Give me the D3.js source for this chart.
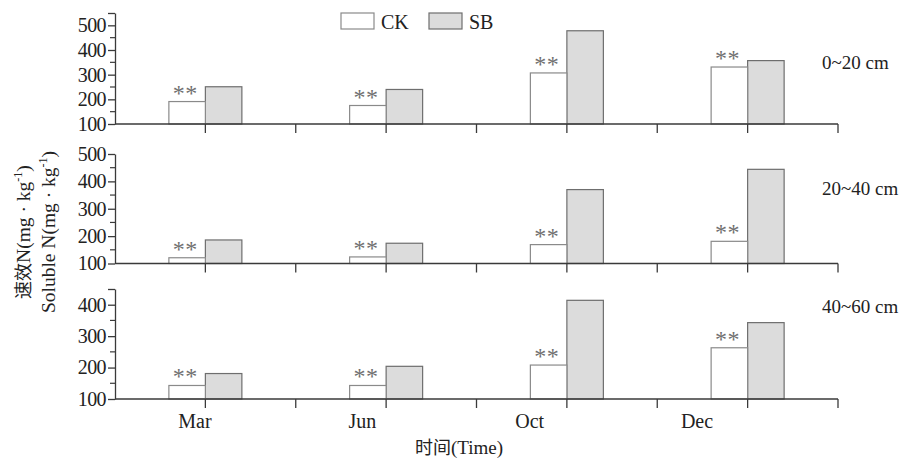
<!DOCTYPE html>
<html>
<head>
<meta charset="utf-8">
<script src="https://cdn.jsdelivr.net/npm/d3@7"></script>
<style>
  html, body { margin: 0; padding: 0; background: #fff; }
  svg text { font-family: "Liberation Serif", "Times New Roman", serif; }
</style>
</head>
<body>
<svg id="chart" width="914" height="459"></svg>
<script>
// Sampling months and soil depth layers
const months = ["Mar", "Jun", "Oct", "Dec"];
const depths = ["0~20 cm", "20~40 cm", "40~60 cm"];
const seriesNames = ["CK", "SB"];

// Soluble N (mg·kg-1) per depth layer
const ck0to20 = [191, 175, 307, 331];
const sb0to20 = [251, 240, 478, 357];
const ck20to40 = [121, 124, 169, 181];
const sb20to40 = [186, 174, 370, 444];
const ck40to60 = [143, 143, 208, 263];
const sb40to60 = [181, 204, 414, 343];

// Y-axis tick labels per panel
const ticks0to20 = [100, 200, 300, 400, 500];
const ticks20to40 = [100, 200, 300, 400, 500];
const ticks40to60 = [100, 200, 300, 400];
const yMax = [550, 500, 450];

// Significance marks above CK bars
const sigMarks = ["**", "**", "**", "**"];

const panels = [
  { label: depths[0], ck: ck0to20, sb: sb0to20, ticks: ticks0to20, max: yMax[0], top: 13, bottom: 124 },
  { label: depths[1], ck: ck20to40, sb: sb20to40, ticks: ticks20to40, max: yMax[1], top: 154, bottom: 263.5 },
  { label: depths[2], ck: ck40to60, sb: sb40to60, ticks: ticks40to60, max: yMax[2], top: 289, bottom: 399 }
];

const svg = d3.select("#chart");
const axisColor = "#3a3a3a";
const left = 115, right = 838;

const x = d3.scaleBand().domain(months).range([left, right]).paddingInner(0).paddingOuter(0);
const barW = 36.5;
const labelX = d3.scalePoint().domain(months).range([195, 697]);

panels.forEach((p, pi) => {
  const y = d3.scaleLinear().domain([100, p.max]).range([p.bottom, p.top]);
  const g = svg.append("g");

  // bars
  const rows = months.map((m, i) => ({ m, ck: p.ck[i], sb: p.sb[i], sig: sigMarks[i] }));
  const cx = d => x(d.m) + x.bandwidth() / 2;

  g.selectAll("rect.sb").data(rows).join("rect")
    .attr("x", d => cx(d))
    .attr("width", barW)
    .attr("y", d => y(d.sb))
    .attr("height", d => y(100) - y(d.sb))
    .attr("fill", "#dcdcdc")
    .attr("stroke", "#6e6e6e")
    .attr("stroke-width", 1.2);

  g.selectAll("rect.ck").data(rows).join("rect")
    .attr("x", d => cx(d) - barW)
    .attr("width", barW)
    .attr("y", d => y(d.ck))
    .attr("height", d => y(100) - y(d.ck))
    .attr("fill", "#ffffff")
    .attr("stroke", "#8a8a8a")
    .attr("stroke-width", 1.2);

  g.selectAll("text.sig").data(rows).join("text")
    .attr("x", d => cx(d) - barW / 2 - 2)
    .attr("y", d => y(d.ck) - 1)
    .attr("text-anchor", "middle")
    .attr("fill", "#707070")
    .attr("font-size", 24)
    .attr("letter-spacing", 0.5)
    .text(d => d.sig);

  // y axis: labelled major ticks plus unlabelled half steps
  const minor = d3.range(150, p.max + 1, 100);
  const yAxis = d3.axisLeft(y).tickValues(p.ticks.concat([p.max].filter(v => !p.ticks.includes(v))))
    .tickSize(7).tickSizeOuter(0).tickPadding(2)
    .tickFormat(d => p.ticks.includes(d) ? d : "");
  const ya = g.append("g").attr("transform", `translate(${left},0)`).call(yAxis);
  ya.selectAll("line").attr("stroke", axisColor).attr("stroke-width", 1.3);
  ya.select(".domain").attr("stroke", axisColor).attr("stroke-width", 1.3);
  ya.selectAll("text").attr("font-size", 20).attr("fill", "#222")
    .attr("font-family", "Liberation Serif").attr("letter-spacing", -0.6);
  g.append("g").selectAll("line").data(minor.filter(v => v !== p.max)).join("line")
    .attr("x1", left - 5).attr("x2", left)
    .attr("y1", d => y(d)).attr("y2", d => y(d))
    .attr("stroke", axisColor).attr("stroke-width", 1.2);

  // x axis with ticks at band centres and boundaries
  const xTicks = d3.range(1, 9).map(k => left + k * x.bandwidth() / 2);
  g.append("line")
    .attr("x1", left).attr("x2", right)
    .attr("y1", y(100)).attr("y2", y(100))
    .attr("stroke", axisColor).attr("stroke-width", 1.4);
  g.append("g").selectAll("line").data(xTicks).join("line")
    .attr("x1", d => d).attr("x2", d => d)
    .attr("y1", y(100)).attr("y2", y(100) + 9)
    .attr("stroke", axisColor).attr("stroke-width", 1.3);

  // depth label
  g.append("text")
    .attr("x", 822)
    .attr("y", [69, 195, 313][pi])
    .attr("font-size", 19)
    .attr("fill", "#222")
    .text(p.label);
});

// month labels
svg.append("g").selectAll("text").data(months).join("text")
  .attr("x", d => labelX(d))
  .attr("y", 428)
  .attr("text-anchor", "middle")
  .attr("font-size", 20)
  .attr("fill", "#222")
  .text(d => d);

// x-axis title
svg.append("text")
  .attr("x", 459).attr("y", 454)
  .attr("text-anchor", "middle")
  .attr("font-size", 19)
  .attr("fill", "#222")
  .call(t => {
    t.append("tspan").attr("font-family", "Noto Sans CJK SC").attr("font-size", 18).text("时间");
    t.append("tspan").text("(Time)");
  });

// y-axis title, two lines
const yTitle = svg.append("g").attr("transform", "translate(0,232) rotate(-90)");
const line1 = yTitle.append("text").attr("x", 0).attr("y", 30)
  .attr("text-anchor", "middle").attr("font-size", 19.5).attr("fill", "#222");
line1.append("tspan").attr("font-family", "Noto Sans CJK SC").attr("font-size", 18).text("速效");
line1.append("tspan").text("N(mg · kg");
line1.append("tspan").attr("font-size", 12).attr("dy", -8).text("-1");
line1.append("tspan").attr("dy", 8).text(")");

const line2 = yTitle.append("text").attr("x", 0).attr("y", 55)
  .attr("text-anchor", "middle").attr("font-size", 19.5).attr("fill", "#222");
line2.append("tspan").text("Soluble N(mg · kg");
line2.append("tspan").attr("font-size", 12).attr("dy", -8).text("-1");
line2.append("tspan").attr("dy", 8).text(")");

// legend
const legend = svg.append("g");
const legendX = d3.scalePoint().domain(seriesNames).range([341, 429]);
const legendFill = d3.scaleOrdinal().domain(seriesNames).range(["#ffffff", "#dcdcdc"]);
const legendStroke = d3.scaleOrdinal().domain(seriesNames).range(["#8a8a8a", "#6e6e6e"]);
seriesNames.forEach(s => {
  legend.append("rect")
    .attr("x", legendX(s)).attr("y", 13)
    .attr("width", 33).attr("height", 16)
    .attr("fill", legendFill(s)).attr("stroke", legendStroke(s)).attr("stroke-width", 1.2);
  legend.append("text")
    .attr("x", legendX(s) + 40).attr("y", 29)
    .attr("font-size", 20).attr("fill", "#222")
    .text(s);
});
</script>
</body>
</html>
